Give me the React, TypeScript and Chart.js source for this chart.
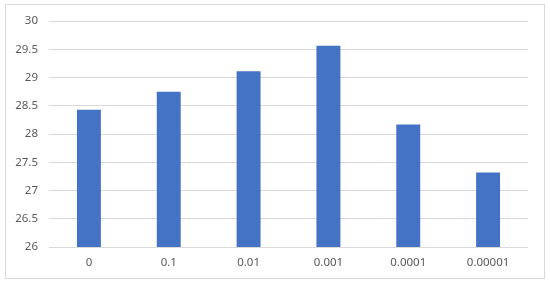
import React, { useEffect, useRef } from "react";
import { Chart, registerables } from "chart.js";

Chart.register(...registerables);

const categories = ["0", "0.1", "0.01", "0.001", "0.0001", "0.00001"];
const values = [28.43, 28.75, 29.11, 29.56, 28.17, 27.32];
const yMin = 26;
const yMax = 30;
const yStep = 0.5;

const borderPlugin = {
  id: "outerBorder",
  beforeDraw(chart: any) {
    const ctx = chart.ctx;
    ctx.save();
    ctx.fillStyle = "#ffffff";
    ctx.fillRect(0, 0, chart.width, chart.height);
    ctx.strokeStyle = "#d9d9d9";
    ctx.lineWidth = 1;
    ctx.strokeRect(5.5, 4.5, 539, 274);
    ctx.restore();
  },
};

export default function App() {
  const ref = useRef<HTMLCanvasElement | null>(null);
  useEffect(() => {
    if (!ref.current) return;
    const chart = new Chart(ref.current, {
      type: "bar",
      data: {
        labels: categories,
        datasets: [
          {
            data: values,
            backgroundColor: "#4472c4",
            barPercentage: 0.6,
            categoryPercentage: 0.5,
          },
        ],
      },
      options: {
        animation: false,
        responsive: false,
        maintainAspectRatio: false,
        layout: { padding: { left: 0, top: 21, right: 22, bottom: 0 } },
        plugins: { legend: { display: false }, tooltip: { enabled: false } },
        scales: {
          x: {
            grid: { display: false, drawTicks: false },
            border: { display: false },
            ticks: {
              color: "#595959",
              font: { family: "'Noto Sans'", size: 11.5 },
              padding: 9,
            },
            afterFit: (s: any) => {
              s.height = 38;
            },
          },
          y: {
            min: yMin,
            max: yMax,
            grid: { color: "#d9d9d9", lineWidth: 1, drawTicks: false },
            border: { display: false },
            ticks: {
              stepSize: yStep,
              color: "#595959",
              font: { family: "'Noto Sans'", size: 11.5 },
              padding: 11,
              callback: (v: any) => String(Number(v)),
            },
            afterFit: (s: any) => {
              s.width = 49;
            },
          },
        },
      },
      plugins: [borderPlugin],
    });
    return () => chart.destroy();
  }, []);
  return (
    <div style={{ position: "fixed", left: 0, top: 0, width: 550, height: 285 }}>
      <canvas ref={ref} width={550} height={285} style={{ width: 550, height: 285 }} />
    </div>
  );
}
